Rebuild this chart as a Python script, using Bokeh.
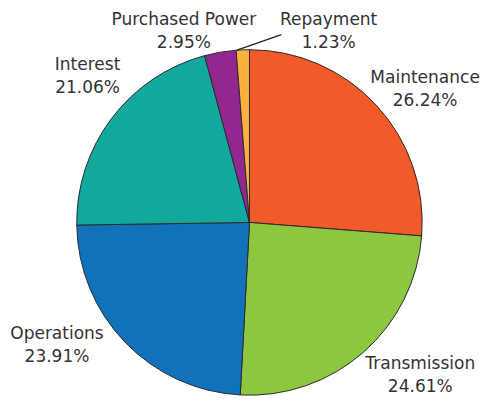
import math
from bokeh.plotting import figure
from bokeh.models import Range1d
from bokeh.core.properties import value
from bokeh.embed import file_html
from bokeh.resources import INLINE

categories = ["Maintenance", "Transmission", "Operations", "Interest", "Purchased Power", "Repayment"]
shares = [26.24, 24.61, 23.91, 21.06, 2.95, 1.23]
colors = ["#F15A2B", "#8DC63F", "#1172BA", "#12A89D", "#92278F", "#FBB040"]

# layout in reference-pixel units (y measured downward, converted below)
CX, CY, R = 258, 230, 179
label_r = [229, 237.3, 236, 226.3, 210.6, 215.5]
label_da = [5.4, -7.0, 11.6, 5.1, -9.1, 24.6]   # degrees, clockwise nudge

W, H = 482, 396
SC = 0.965
p = figure(width=W, height=H, output_backend="svg", toolbar_location=None,
           x_range=Range1d(0, W / SC), y_range=Range1d(412 - H / SC, 412),
           min_border=0)
p.axis.visible = False
p.grid.visible = False
p.outline_line_color = None
p.background_fill_color = "white"
p.border_fill_color = "white"

cx, cy = CX, 412 - CY
total = sum(shares)
starts, ends, mids = [], [], []
cum = 0.0
for s in shares:
    a0 = math.pi / 2 - 2 * math.pi * cum / total
    cum += s
    a1 = math.pi / 2 - 2 * math.pi * cum / total
    starts.append(a0)
    ends.append(a1)
    mids.append((a0 + a1) / 2)

p.wedge(x=[cx] * len(shares), y=[cy] * len(shares), radius=R,
        start_angle=starts, end_angle=ends, direction="clock",
        fill_color=colors, line_color="#2b2b2b", line_width=1)

names = list(categories)
pcts = [f"{s:.2f}%" for s in shares]
lx, ly = [], []
for i, m in enumerate(mids):
    a = m - math.radians(label_da[i])
    lx.append(cx + label_r[i] * math.cos(a))
    ly.append(cy + label_r[i] * math.sin(a))

# leader line for Repayment (from slice edge toward its label)
ri = categories.index("Repayment")
a_edge = starts[ri] - 0.005
sx, sy = cx + R * math.cos(a_edge), cy + R * math.sin(a_edge)
p.line(x=[sx, sx + 46], y=[sy, sy + 16], line_color="#222222", line_width=1.3)

font = value("DejaVu Sans")
p.text(x=lx, y=ly, text=names, text_align="center", text_baseline="middle",
       y_offset=-11.5, text_font=font, text_font_size="17px", text_color="#333333")
p.text(x=lx, y=ly, text=pcts, text_align="center", text_baseline="middle",
       y_offset=11.5, text_font=font, text_font_size="17px", text_color="#333333")

open("out.html", "w").write(file_html(p, INLINE))
